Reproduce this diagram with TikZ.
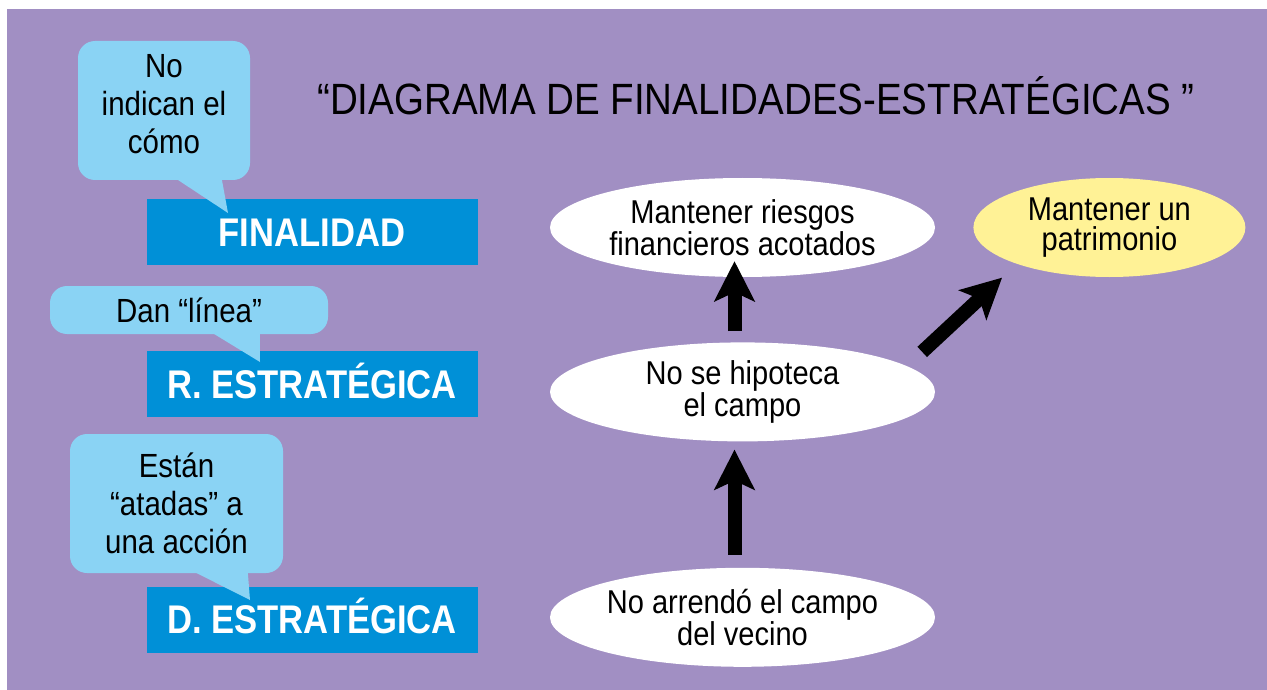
\documentclass[tikz,border=0pt]{standalone}
\usepackage{fontspec}
\setmainfont{Liberation Sans}[FakeStretch=0.88]
\newfontfamily\nivelfont{Liberation Sans}[FakeStretch=0.865]
\usetikzlibrary{arrows.meta,calc,positioning,shapes.geometric}
\definecolor{fondo}{RGB}{161,143,195}
\definecolor{azul}{RGB}{0,144,215}
\definecolor{celeste}{RGB}{138,211,244}
\definecolor{amarillo}{RGB}{255,242,150}
\tikzset{
	nivel/.style={fill=azul,text=white,minimum width=331pt,minimum height=66pt,
		inner sep=0pt,text height=28pt,text depth=0pt,
		font=\nivelfont\fontsize{40}{40}\selectfont\bfseries},
	globo/.style={fill=celeste,rounded corners=17pt,inner sep=0pt,align=center,
		font=\fontsize{33.5}{38}\selectfont},
	cola/.style={fill=celeste},
	meta/.style={ellipse,fill=white,minimum width=385pt,minimum height=99pt,
		inner sep=0pt,align=center,font=\fontsize{33}{30}\selectfont},
	flecha/.style={line width=14pt,-{Stealth[length=40pt,width=40pt,inset=9pt]}}
}
\begin{document}
\begin{tikzpicture}[x=1pt,y=-1pt]
	\useasboundingbox (0,0) rectangle (1267,690);
	\fill[fondo] (7,9) rectangle (1267,690);
	\node[anchor=base,font=\fontsize{43.8}{43}\selectfont] (titulo) at (756,115)
		{“DIAGRAMA DE FINALIDADES-ESTRATÉGICAS ”};
	% niveles
	\node[nivel] (fin) at (312,232) {FINALIDAD};
	\node[nivel,below=86pt of fin] (res) {R. ESTRATÉGICA};
	\node[nivel,below=169pt of res] (dec) {D. ESTRATÉGICA};
	% globos
	\node[globo,minimum width=172pt,minimum height=139pt,text depth=14pt] (g1) at (164,110.5)
		{No\\indican el\\cómo};
	\node[globo,minimum width=278pt,minimum height=48pt] (g2) at (189,310) {Dan “línea”};
	\node[globo,minimum width=213pt,minimum height=139pt] (g3) at (176.5,503.5)
		{Están\\“atadas” a\\una acción};
	\coordinate (p1) at (228,213);
	\coordinate (p2) at (260,362);
	\coordinate (p3) at (250,600);
	\fill[cola] ([xshift=99pt,yshift=1pt]g1.south west) -- (p1) -- ([xshift=144pt,yshift=1pt]g1.south west) -- cycle;
	\fill[cola] ([xshift=163pt,yshift=1pt]g2.south west) -- (p2) -- ([xshift=210pt,yshift=1pt]g2.south west) -- cycle;
	\fill[cola] ([xshift=125pt,yshift=1pt]g3.south west) -- (p3) -- ([xshift=178pt,yshift=1pt]g3.south west) -- cycle;
	% ejemplo
	\node[meta] (e1) at (742.5,227.5) {Mantener riesgos\\financieros acotados};
	\node[meta,below=65pt of e1] (e2) {No se hipoteca\\el campo};
	\node[meta,below=126pt of e2] (e3) {No arrendó el campo\\del vecino};
	\node[meta,fill=amarillo,minimum width=272pt,right=38pt of e1] (e4) {Mantener un\\patrimonio};
	\draw[flecha] ([xshift=-8pt,yshift=11pt]e2.north) -- ([xshift=-8pt,yshift=16pt]e1.south);
	\draw[flecha] ([xshift=-8pt,yshift=13pt]e3.north) -- ([xshift=-8pt,yshift=-8pt]e2.south);
	\draw[flecha] ([xshift=-13pt,yshift=40pt]e2.east) -- ([xshift=-11pt,yshift=-15pt]e4.south west);
\end{tikzpicture}
\end{document}
